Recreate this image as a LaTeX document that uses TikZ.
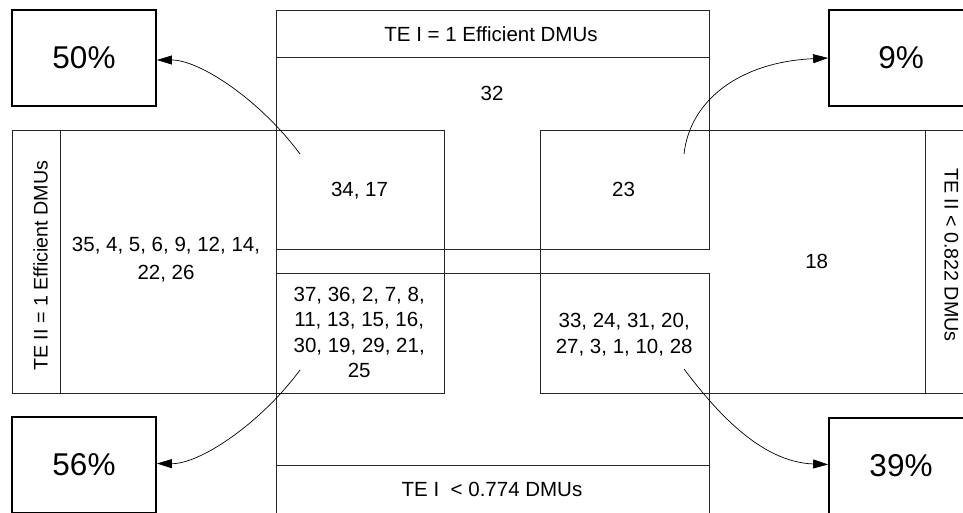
\documentclass[tikz,border=0pt]{standalone}
\usepackage{fontspec}
\setmainfont{Liberation Sans}
\usetikzlibrary{arrows.meta}
\begin{document}
\begin{tikzpicture}[x=1pt,y=-1pt,
  frame/.style={draw=black!85, line width=0.8pt},
  pctbox/.style={draw=black, line width=1.8pt, minimum width=144pt, minimum height=96pt, inner sep=0pt, font=\fontsize{31.5}{36}\selectfont},
  lbl/.style={inner sep=0pt, font=\fontsize{20.5}{25.6}\selectfont, align=center},
  vlbl/.style={inner sep=0pt, font=\fontsize{19.7}{24}\selectfont},
  link/.style={line width=0.7pt, -{Triangle[length=15pt,width=9pt]}}]
\useasboundingbox (0,0) rectangle (963,512);
\clip (0,0) rectangle (963,512);

% frames
\draw[frame] (276,10) rectangle (709,249.5);
\draw[frame] (276,57.7) -- (709,57.7);
\draw[frame] (276,273.5) rectangle (709,513);
\draw[frame] (276,465) -- (709,465);
\draw[frame] (12,130) rectangle (444,393);
\draw[frame] (60,130) -- (60,393);
\draw[frame] (540,130) rectangle (972,393);
\draw[frame] (925,130) -- (925,393);
\draw[frame] (276,249.5) -- (276,273.5);

% percentage boxes
\node[pctbox] (p50) at (84,58) {50\%};
\node[pctbox] (p9) at (901,58) {9\%};
\node[pctbox] (p56) at (84,465) {56\%};
\node[pctbox] (p39) at (901,466) {39\%};

% labels
\node[lbl, anchor=base] (teItop) at (491,41) {TE I = 1 Efficient DMUs};
\node[lbl, anchor=base] (n32) at (492,100) {32};
\node[lbl, anchor=base] (n3417) at (359.5,196) {34, 17};
\node[lbl, anchor=base] (n23) at (623.5,196.5) {23};
\node[lbl, anchor=base] (n18) at (816.7,268) {18};
\node[lbl, anchor=base] (teIbot) at (492,496.7) {TE I\ \ < 0.774 DMUs};
\node[lbl, font=\fontsize{20.5}{27.5}\selectfont] (nleft) at (166,259.5) {35, 4, 5, 6, 9, 12, 14,\\22, 26};
\node[lbl] (nmid) at (359.2,332.5) {37, 36, 2, 7, 8,\\11, 13, 15, 16,\\30, 19, 29, 21,\\25};
\node[lbl] (nright) at (624.2,334.5) {33, 24, 31, 20,\\27, 3, 1, 10, 28};
\node[vlbl, rotate=90] (teIIl) at (40.5,265.8) {TE II = 1 Efficient DMUs};
\node[vlbl, rotate=-90] (teIIr) at (951.5,254.9) {TE II < 0.822 DMUs};

% connectors
\coordinate (s1) at (300,154);
\coordinate (s2) at (684,154);
\coordinate (s3) at (300,370);
\coordinate (s4) at (684,369);
\draw[link] (s1) .. controls (260,100) and (200,60) .. ([yshift=-2pt]p50.east);
\draw[link] (s2) .. controls (690,100) and (740,62) .. (p9.west);
\draw[link] (s3) .. controls (260,424) and (200,464) .. ([yshift=1.5pt]p56.east);
\draw[link] (s4) .. controls (715,410) and (760,462) .. ([yshift=1.5pt]p39.west);
\end{tikzpicture}
\end{document}
